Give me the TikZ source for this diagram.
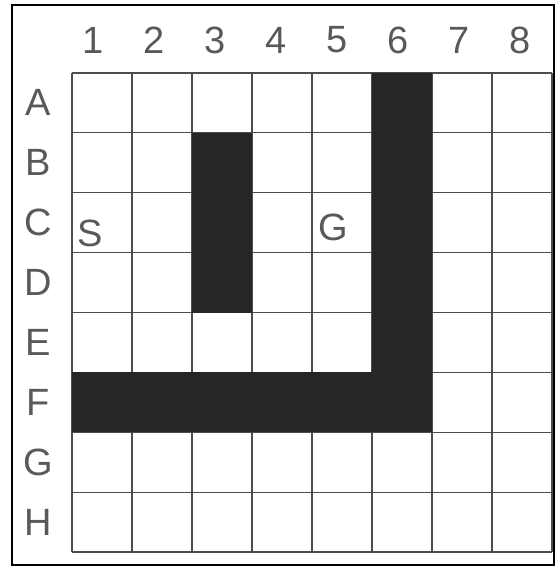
\documentclass[tikz,border=0pt]{standalone}
\usepackage{fontspec}
\setmainfont{Liberation Sans}
\usetikzlibrary{positioning}

\begin{document}
\begin{tikzpicture}[x=.5pt,y=-.5pt,font=\fontsize{19}{19}\selectfont,
 lbl/.style={text=black!65,inner sep=0pt},
 gridline/.style={black!70,line width=.6pt},
 wall/.style={fill=black!85}]
 \useasboundingbox (0,0) rectangle (557,568);
 \draw[line width=1.1pt] (12,5) rectangle (554,565);
 \foreach \k in {0,...,8}{
  \draw[gridline] ({72+60*\k},73)--({72+60*\k},552);
  \draw[gridline] (72,{73+59.875*\k})--(552,{73+59.875*\k});
 }
 \fill[wall] (372,73) rectangle (432,432.25);
 \fill[wall] (72,372.4) rectangle (432,432.25);
 \fill[wall] (192,132.9) rectangle (252,312.5);
 \foreach \k in {1,...,8}{
  \node[lbl] (col\k) at ({32+61*\k},40) {\k};
 }
 \foreach \r [count=\k] in {A,...,H}{
  \node[lbl] (row\r) at (38,{43+59.875*\k}) {\r};
 }
 \node[lbl] (start) at (90,233) {S};
 \node[lbl] (goal) at (333,227) {G};
\end{tikzpicture}
\end{document}
